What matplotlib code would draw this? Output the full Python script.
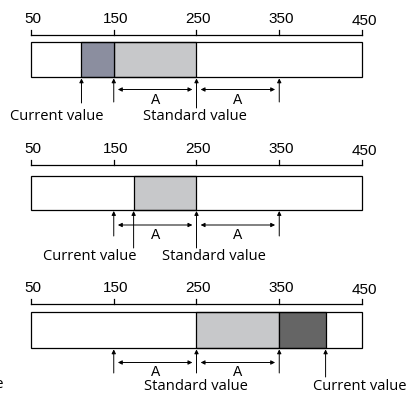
import matplotlib
matplotlib.use('Agg')
import matplotlib.pyplot as plt

# scale and data for the three examples
ticks = [50, 150, 250, 350, 450]
standard = 250
width_a = 100
current = [111, 174, 406]
light_band = [(150, 250), (174, 250), (250, 350)]
dark_band = [(111, 150), None, (350, 406)]
dark_color = ['#8b8e9f', None, '#656565']
light_color = '#c7c8ca'

# layout in pixel rows (y grows downward)
ruler_y = [35, 165, 304]
bar_top = [42.3, 175.6, 311.6]
bar_bot = [77.4, 210.0, 348.4]
arrow_short = [102, 236, 373]
arrow_cur = [103, 248, 377]
arrow_std = [108, 248, 373]
darrow_y = [89.5, 225, 362.5]
label_y = [116.5, 257, 386]
# label centres in scale units
cur_label_x = [81.5, 121.5, 447.5]
std_label_x = [248.0, 271.0, 249.0]

num_font = 'Liberation Sans'
lab_font = 'Open Sans'

# pixel x = 31 + (v - 50) * 0.8275
k = 331 / 400.0
xmin = 50 - 31 / k
xmax = 50 + (410 - 31) / k

fig = plt.figure(figsize=(4.10, 3.94), dpi=100)
ax = fig.add_axes([0, 0, 1, 1])
ax.set_xlim(xmin, xmax)
ax.set_ylim(394, 0)
ax.axis('off')

lw = 0.9
head = dict(arrowstyle='-|>', color='black', lw=0.7, mutation_scale=6,
            shrinkA=0, shrinkB=0)
dhead = dict(arrowstyle='<|-|>', color='black', lw=0.7, mutation_scale=6,
             shrinkA=0, shrinkB=0)
gap = 5

for i in range(3):
    ry = ruler_y[i]
    # ruler
    ax.plot([ticks[0], ticks[-1]], [ry, ry], color='black', lw=lw)
    for t in ticks:
        ax.plot([t, t], [ry, ry - 5.5], color='black', lw=lw)
        dy = 2 if t == ticks[-1] else 0
        ax.text(t + (3 if t == ticks[-1] else 2), ry - 16 + dy, str(t),
                ha='center', va='center', fontsize=11, family=num_font)

    # bar
    top, bot = bar_top[i], bar_bot[i]
    h = bot - top
    lo, hi = light_band[i]
    ax.barh(top + h / 2, hi - lo, left=lo, height=h, color=light_color,
            edgecolor='black', lw=lw)
    if dark_band[i] is not None:
        lo, hi = dark_band[i]
        ax.barh(top + h / 2, hi - lo, left=lo, height=h,
                color=dark_color[i], edgecolor='black', lw=lw)
    ax.barh(top + h / 2, ticks[-1] - ticks[0], left=ticks[0], height=h,
            color='none', edgecolor='black', lw=lw)

    # up arrows
    for v in [standard - width_a, standard + width_a]:
        ax.annotate('', xy=(v, bot + 1), xytext=(v, arrow_short[i]),
                    arrowprops=head)
    ax.annotate('', xy=(standard, bot + 1), xytext=(standard, arrow_std[i]),
                arrowprops=head)
    ax.annotate('', xy=(current[i], bot + 1),
                xytext=(current[i], arrow_cur[i]), arrowprops=head)

    # A spans
    for a0 in [standard - width_a, standard]:
        ax.annotate('', xy=(a0 + gap, darrow_y[i]),
                    xytext=(a0 + width_a - gap, darrow_y[i]),
                    arrowprops=dhead)
        ax.text(a0 + width_a / 2, darrow_y[i] + 10, 'A', ha='center',
                va='center', fontsize=10, family=num_font)

    ax.text(cur_label_x[i], label_y[i], 'Current value', ha='center',
            va='center', fontsize=10.6, family=lab_font)
    ax.text(std_label_x[i], label_y[i], 'Standard value', ha='center',
            va='center', fontsize=10.6, family=lab_font)

# label cut off at the left edge of the source picture
ax.text(xmin + 3 / k, 384, 'Current value', ha='right', va='center',
        fontsize=10.6, family=lab_font)

fig.savefig('out.png', dpi=100)
